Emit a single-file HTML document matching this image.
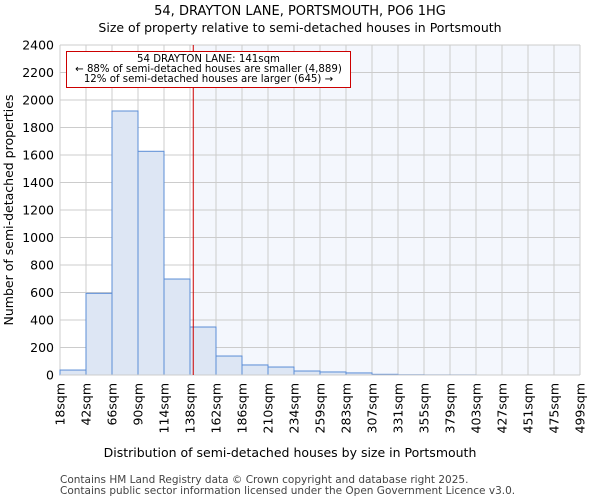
<!DOCTYPE html>
<html><head><meta charset="utf-8"><style>
body{margin:0;background:#fff;font-family:"DejaVu Sans","Liberation Sans",sans-serif;}
</style></head><body>
<svg id="chart" width="600" height="500" xmlns="http://www.w3.org/2000/svg" font-family="DejaVu Sans, Liberation Sans, sans-serif">
<text x="300" y="15" text-anchor="middle" font-size="13">54, DRAYTON LANE, PORTSMOUTH, PO6 1HG</text>
<text x="300" y="32" text-anchor="middle" font-size="12.5">Size of property relative to semi-detached houses in Portsmouth</text>
<g id="plot"></g>
<text x="290" y="457" text-anchor="middle" font-size="12.5">Distribution of semi-detached houses by size in Portsmouth</text>
<text transform="translate(13,210) rotate(-90)" text-anchor="middle" font-size="12.5">Number of semi-detached properties</text>
<text x="60" y="483" font-size="10.5" fill="#444">Contains HM Land Registry data © Crown copyright and database right 2025.</text>
<text x="60" y="494" font-size="10.5" fill="#444">Contains public sector information licensed under the Open Government Licence v3.0.</text>
</svg>
<script>
const binLabels=["18sqm","42sqm","66sqm","90sqm","114sqm","138sqm","162sqm","186sqm","210sqm","234sqm","259sqm","283sqm","307sqm","331sqm","355sqm","379sqm","403sqm","427sqm","451sqm","475sqm","499sqm"];
const counts=[36,594,1920,1627,698,349,138,73,58,29,22,15,5,2,1,1,0,0,0,0];
const yTicks=[0,200,400,600,800,1000,1200,1400,1600,1800,2000,2200,2400];
const markerIndex=5.125;
const L=60,R=580,T=45,B=375,yMax=2400;
const NS="http://www.w3.org/2000/svg";
const g=document.getElementById('plot');
const bw=(R-L)/counts.length;
const x=i=>L+i*bw;
const y=v=>B-(v/yMax)*(B-T);
function mk(t,a){const e=document.createElementNS(NS,t);for(const k in a)e.setAttribute(k,a[k]);g.appendChild(e);return e;}
const mx=x(markerIndex);
let s=mk('rect',{x:mx,y:T,width:R-mx,height:B-T,fill:'#f4f7fd'});


yTicks.forEach(v=>{
 const l=mk('line',{x1:L,x2:R,y1:y(v),y2:y(v),stroke:'#cccccc','stroke-width':1});
 
 
 const t=mk('text',{x:L-6,y:y(v)+4.5,'text-anchor':'end','font-size':12.5});
 t.textContent=v;
 
 
});
binLabels.forEach((lab,i)=>{
 const l=mk('line',{x1:x(i),x2:x(i),y1:T,y2:B,stroke:'#cccccc','stroke-width':1});
 
 
 const t=mk('text',{transform:`translate(${x(i)+4.5},${B+8}) rotate(-90)`,'text-anchor':'end','font-size':12.5});
 t.textContent=lab;
 
 
});
counts.forEach((c,i)=>{
 if(c<=0)return;
 const r=mk('rect',{x:x(i),y:y(c),width:bw,height:B-y(c),fill:'#dde6f4',stroke:'#5b8dd6','stroke-width':1});
 
 
});
const ax=mk('line',{x1:L,x2:R,y1:B,y2:B,stroke:'#ccc'});


const ml=mk('line',{x1:mx,x2:mx,y1:T,y2:B,stroke:'#cc0000','stroke-width':1});


const box=mk('rect',{x:66.5,y:51.5,width:284,height:36,fill:'#fff',stroke:'#cc0000','stroke-width':1});


["54 DRAYTON LANE: 141sqm","← 88% of semi-detached houses are smaller (4,889)","12% of semi-detached houses are larger (645) →"].forEach((tx,i)=>{
 const t=mk('text',{x:208.5,y:62+i*10,'text-anchor':'middle','font-size':10.2});
 t.textContent=tx;
 
 
});
</script>
</body></html>
